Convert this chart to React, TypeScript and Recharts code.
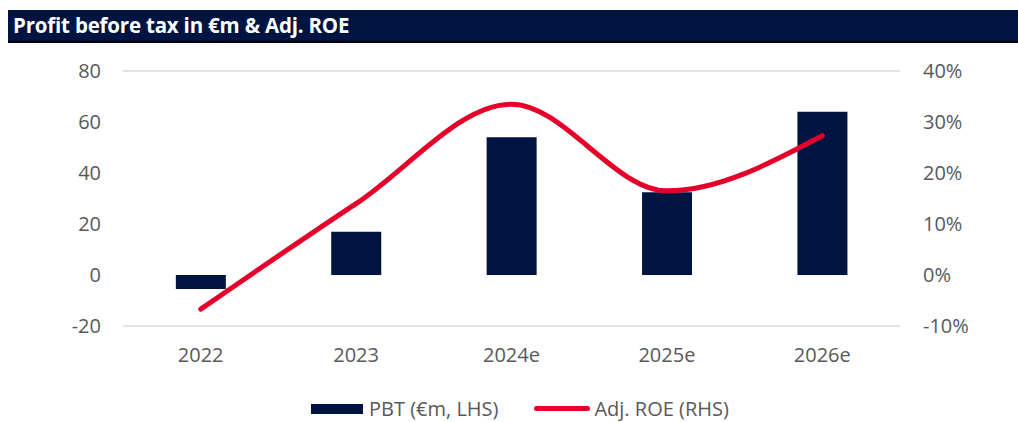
import { Bar, CartesianGrid, ComposedChart, Line, XAxis, YAxis } from "recharts";

const years = ["2022", "2023", "2024e", "2025e", "2026e"];
const pbt = [-5.5, 17, 54, 32.5, 64];
const roe = [-6.7, 14, 33.5, 16.5, 27.3];
const leftTicks = [-20, 0, 20, 40, 60, 80];
const rightTicks = [-10, 0, 10, 20, 30, 40];

const data = years.map((year, i) => ({ year, pbt: pbt[i], roe: roe[i] }));

const NAVY = "#001441";
const RED = "#E5002B";
const GREY = "#595959";
const FONT = "'Open Sans', sans-serif";

export default function App() {
  const tick = { fontSize: 20, fill: GREY, fontFamily: FONT };
  return (
    <div
      style={{
        position: "absolute",
        left: 0,
        top: 0,
        width: 1018,
        height: 422,
        background: "#fff",
        fontFamily: FONT,
      }}
    >
      <div
        style={{
          position: "absolute",
          left: 8,
          top: 10,
          width: 1010,
          height: 33,
          background: NAVY,
          borderBottom: "2px solid #000",
          color: "#fff",
          fontWeight: 700,
          fontSize: 20.5,
          lineHeight: "31px",
          paddingLeft: 5,
          letterSpacing: -0.2,
          boxSizing: "border-box",
        }}
      >
        Profit before tax in €m &amp; Adj. ROE
      </div>
      <div style={{ position: "absolute", left: 0, top: 0 }}>
        <ComposedChart
          width={1018}
          height={422}
          data={data}
          margin={{ top: 71, right: 58, bottom: 66, left: 63 }}
          barCategoryGap="34%"
        >
          <CartesianGrid vertical={false} stroke="#d9d9d9" strokeWidth={1.5} />
          <XAxis
            dataKey="year"
            height={30}
            axisLine={false}
            tickLine={false}
            tickSize={0}
            tickMargin={22}
            tick={tick}
          />
          <YAxis
            yAxisId="left"
            domain={[-20, 80]}
            ticks={leftTicks}
            width={60}
            axisLine={false}
            tickLine={false}
            tickSize={0}
            tickMargin={22}
            tick={tick}
          />
          <YAxis
            yAxisId="right"
            orientation="right"
            domain={[-10, 40]}
            ticks={rightTicks}
            tickFormatter={(v) => `${v}%`}
            width={60}
            axisLine={false}
            tickLine={false}
            tickSize={0}
            tickMargin={23}
            tick={{ ...tick, textAnchor: "start" }}
          />
          <Bar yAxisId="left" dataKey="pbt" fill={NAVY} isAnimationActive={false} />
          <Line
            yAxisId="right"
            dataKey="roe"
            type="monotone"
            stroke={RED}
            strokeWidth={5}
            strokeLinecap="round"
            dot={false}
            activeDot={false}
            isAnimationActive={false}
          />
        </ComposedChart>
      </div>
      <div
        style={{
          position: "absolute",
          top: 395,
          left: 311,
          display: "flex",
          alignItems: "center",
          fontSize: 20,
          color: GREY,
          whiteSpace: "nowrap",
        }}
      >
        <span style={{ width: 52, height: 10, background: NAVY, marginRight: 6 }} />
        <span>PBT (€m, LHS)</span>
        <span
          style={{
            width: 56,
            height: 5,
            background: RED,
            borderRadius: 3,
            marginLeft: 36,
            marginRight: 4,
          }}
        />
        <span>Adj. ROE (RHS)</span>
      </div>
    </div>
  );
}
